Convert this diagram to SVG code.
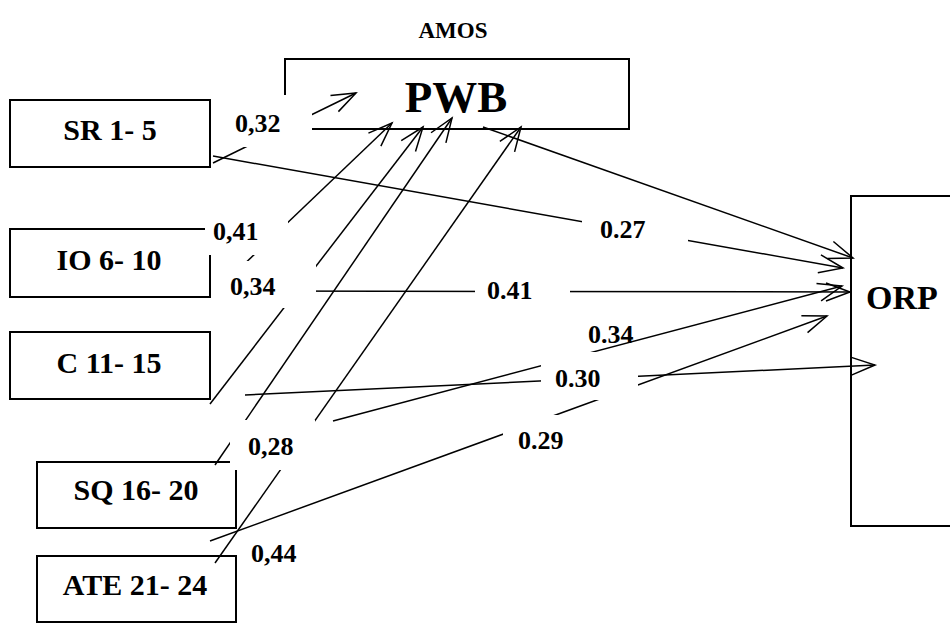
<svg xmlns="http://www.w3.org/2000/svg" width="950" height="623" viewBox="0 0 950 623">
<style>
text{font-family:"Liberation Serif","Times New Roman",serif;font-weight:bold;fill:#000}
.box{fill:none;stroke:#000;stroke-width:2}
.node{font-size:30px}
.lbl{font-size:26px}
.c line{stroke:#000;stroke-width:1.5;marker-end:url(#arr)}
.mask{fill:#fff;stroke:none}
</style>
<defs>
<marker id="arr" markerUnits="userSpaceOnUse" viewBox="-26 -12 30 24" markerWidth="30" markerHeight="24" refX="0" refY="0" orient="auto">
<path d="M-24,-9 L0,0 L-24,9" fill="none" stroke="#000" stroke-width="1.5"/>
</marker>
</defs>
<rect width="950" height="623" fill="#fff"/>
<text x="453" y="38" font-size="23" text-anchor="middle">AMOS</text>
<g id="PWB"><rect class="box" x="285" y="59" width="344" height="70"/><text x="456" y="112" font-size="45" text-anchor="middle">PWB</text></g>
<g id="ORP"><rect class="box" x="851" y="196" width="110" height="330"/><text x="866" y="309" font-size="34">ORP</text></g>
<g id="SR"><rect class="box" x="10" y="100" width="200" height="67"/><text class="node" x="110" y="140" text-anchor="middle">SR 1- 5</text></g>
<g id="IO"><rect class="box" x="10" y="229" width="200" height="68"/><text class="node" x="109" y="270" text-anchor="middle">IO 6- 10</text></g>
<g id="C"><rect class="box" x="10" y="332" width="200" height="67"/><text class="node" x="109" y="373" text-anchor="middle">C 11- 15</text></g>
<g id="SQ"><rect class="box" x="37" y="462" width="199" height="66"/><text class="node" x="136" y="500" text-anchor="middle">SQ 16- 20</text></g>
<g id="ATE"><rect class="box" x="37" y="556" width="199" height="66"/><text class="node" x="135" y="595" text-anchor="middle">ATE 21- 24</text></g>
<g id="connectors" class="c">
<line x1="213" y1="163" x2="356" y2="93"/>
<line x1="214" y1="293" x2="392" y2="123"/>
<line x1="210" y1="404" x2="423" y2="127"/>
<line x1="215" y1="465" x2="452" y2="118"/>
<line x1="215" y1="563" x2="521" y2="127"/>
<line x1="483" y1="127" x2="853" y2="258"/>
<line x1="213" y1="156" x2="843" y2="268"/>
<line x1="215" y1="291" x2="850" y2="292"/>
<line x1="333" y1="421" x2="842" y2="286"/>
<line x1="245" y1="395" x2="875" y2="365"/>
<line x1="210" y1="541" x2="827" y2="316"/>
</g>
<g id="labels">
<rect class="mask" x="215" y="95" width="97" height="52"/>
<rect class="mask" x="205" y="213" width="83" height="42"/>
<rect class="mask" x="213" y="261" width="103" height="47"/>
<rect class="mask" x="230" y="420" width="85" height="50"/>
<rect class="mask" x="541" y="352" width="97" height="48"/>
<rect class="mask" x="503" y="415" width="77" height="45"/>
<rect class="mask" x="582" y="212" width="106" height="38"/>
<rect class="mask" x="475" y="278" width="95" height="27"/>
<text class="lbl" x="235" y="132">0,32</text>
<text class="lbl" x="213" y="240">0,41</text>
<text class="lbl" x="230" y="295">0,34</text>
<text class="lbl" x="600" y="238">0.27</text>
<text class="lbl" x="487" y="299">0.41</text>
<text class="lbl" x="588" y="343">0.34</text>
<text class="lbl" x="555" y="387">0.30</text>
<text class="lbl" x="518" y="449">0.29</text>
<text class="lbl" x="248" y="455">0,28</text>
<text class="lbl" x="251" y="562">0,44</text>
</g>
</svg>
